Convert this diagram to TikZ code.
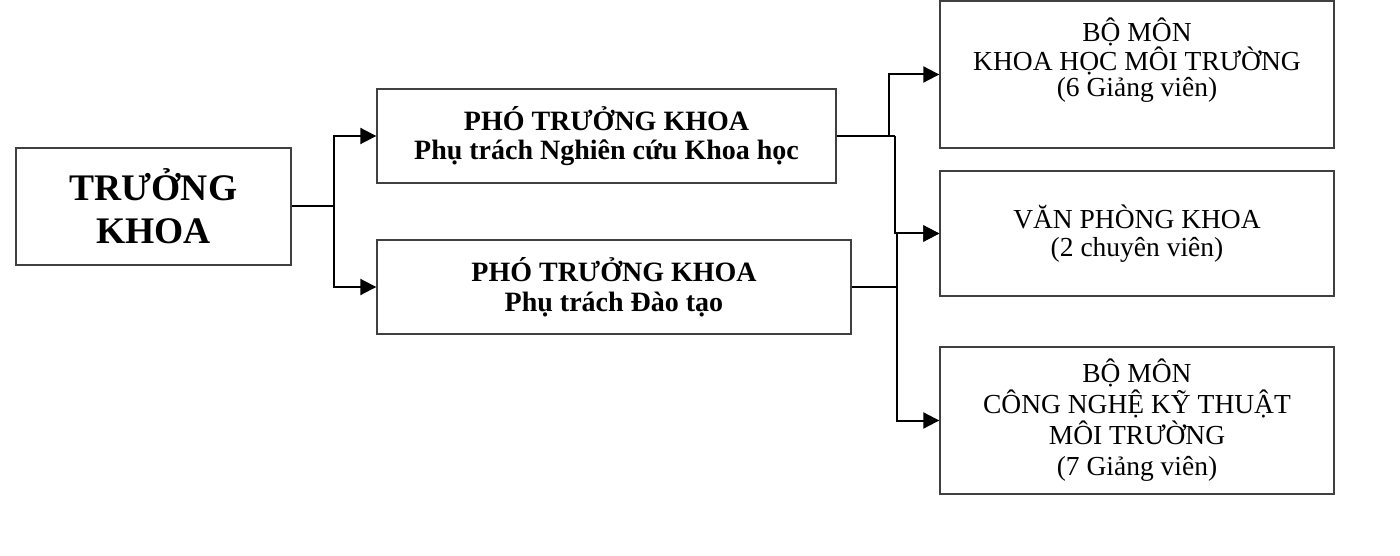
\documentclass[tikz,border=0pt]{standalone}
\usepackage{fontspec}
\setmainfont{Liberation Serif}
\usetikzlibrary{positioning,arrows.meta}

\tikzset{
  unitbox/.style={draw=black!75, line width=1.4pt, rectangle, align=center, inner sep=0pt},
  headbox/.style={unitbox, minimum width=275pt, minimum height=117pt, font=\bfseries\fontsize{37.5}{43}\selectfont},
  deputybox/.style={unitbox, minimum height=94pt, font=\bfseries\fontsize{28}{29.5}\selectfont},
  deptbox/.style={unitbox, minimum width=394pt, font=\fontsize{27.5}{28}\selectfont},
  link/.style={line width=2pt},
  arrow/.style={link, -{Triangle[length=16pt,width=16pt]}}
}

\begin{document}
\begin{tikzpicture}[x=1pt,y=-1pt,on grid]
  \useasboundingbox (0,0) rectangle (1400,556);
  \node[headbox] (chief) at (153.5,206.5) {TRƯỞNG\\KHOA};
  \node[deputybox, minimum width=459pt] (dres) [above right=70.5pt and 453pt of chief] {PHÓ TRƯỞNG KHOA\\Phụ trách Nghiên cứu Khoa học};
  \node[deputybox, minimum width=474pt] (dtrain) [below right=80.5pt and 460.5pt of chief] {PHÓ TRƯỞNG KHOA\\Phụ trách Đào tạo};
  \node[deptbox, minimum height=147pt, text depth=34pt, font=\fontsize{27.5}{26}\selectfont] (envsci) [above right=61.5pt and 530.5pt of dres] {BỘ MÔN\\KHOA HỌC MÔI TRƯỜNG\\(6 Giảng viên)};
  \node[deptbox, minimum height=125pt] (office) [below=159pt of envsci] {VĂN PHÒNG KHOA\\(2 chuyên viên)};
  \node[deptbox, minimum height=147pt, font=\fontsize{27.5}{31}\selectfont] (envtech) [below=187pt of office] {BỘ MÔN\\CÔNG NGHỆ KỸ THUẬT\\MÔI TRƯỜNG\\(7 Giảng viên)};

  % truong khoa -> pho truong khoa
  \draw[link] (chief.east) -- ++(42,0) coordinate (j1);
  \draw[arrow] (j1) |- (dres.west);
  \draw[arrow] (j1) |- (dtrain.west);

  % pho truong khoa -> bo mon, van phong
  \draw[link] (dres.east) -- ++(52,0) coordinate (j2) -- ++(6,0) coordinate (j3);
  \draw[arrow] (j2) |- (envsci.west);
  \draw[arrow] (j3) |- (office.west);
  \draw[link] (dtrain.east) -- ++(45,0) coordinate (j4);
  \draw[arrow] (j4) |- (office.west);
  \draw[arrow] (j4) |- (envtech.west);
\end{tikzpicture}
\end{document}
